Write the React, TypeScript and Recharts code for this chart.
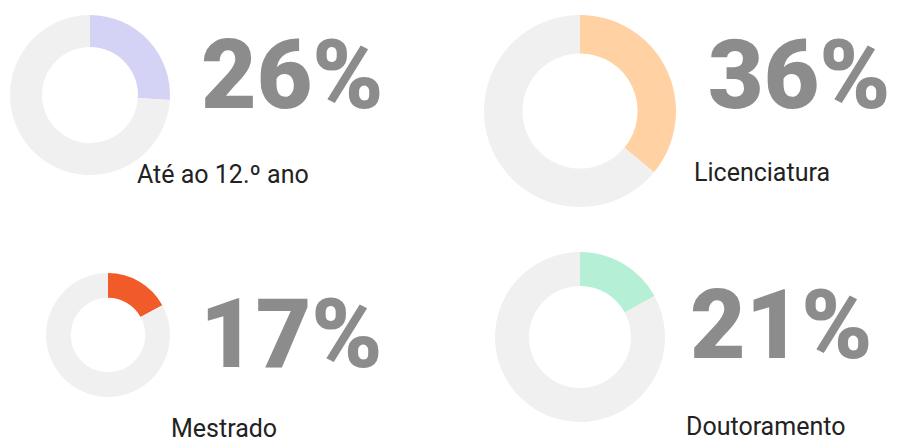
import React from 'react';
import { PieChart, Pie, Cell } from 'recharts';

const categories = ['Até ao 12.º ano', 'Licenciatura', 'Mestrado', 'Doutoramento'];
// numbers printed next to each donut
const shares = [26, 36, 17, 21];
// share the coloured arc actually covers in the picture (Doutoramento's arc is drawn at ~17%)
const arcShares = [26, 36, 17, 17];
const colors = ['#d4d3f6', '#ffd1a3', '#f15a29', '#b5f0d6'];
const restColor = '#f0f0f0';

// placement of each donut + its texts (chart margin is 0)
const layout = [
  { cx: 90, cy: 95, r: 80, numX: 201, numY: 108, labX: 137, labY: 183 },
  { cx: 580, cy: 111, r: 96, numX: 708, numY: 108, labX: 694, labY: 181 },
  { cx: 108, cy: 335, r: 62, numX: 200, numY: 367, labX: 171, labY: 437 },
  { cx: 580, cy: 337, r: 85, numX: 690, numY: 358, labX: 686, labY: 435 },
];

const W = 897;
const H = 441;

export default function App() {
  return (
    <div style={{ position: 'absolute', left: 0, top: 0, width: W, height: H, background: '#fff' }}>
      <PieChart
        width={W}
        height={H}
        margin={{ top: 0, right: 0, bottom: 0, left: 0 }}
        style={{ position: 'absolute', left: 0, top: 0 }}
      >
        {arcShares.map((s, i) => (
          <Pie
            key={categories[i]}
            data={[
              { name: categories[i], value: s },
              { name: 'resto', value: 100 - s },
            ]}
            dataKey="value"
            cx={layout[i].cx}
            cy={layout[i].cy}
            outerRadius={layout[i].r}
            innerRadius={layout[i].r * 0.6}
            startAngle={90}
            endAngle={-270}
            stroke="none"
            isAnimationActive={false}
          >
            <Cell fill={colors[i]} />
            <Cell fill={restColor} />
          </Pie>
        ))}
      </PieChart>
      <svg width={W} height={H} style={{ position: 'absolute', left: 0, top: 0, pointerEvents: 'none' }}>
        {shares.map((s, i) => (
          <g key={i}>
            <text
              x={layout[i].numX}
              y={layout[i].numY}
              fill="#8c8c8c"
              fontFamily="Roboto, sans-serif"
              fontWeight={900}
              fontSize={96}
            >
              {s}%
            </text>
            <text
              x={layout[i].labX}
              y={layout[i].labY}
              fill="#222"
              fontFamily="Roboto, sans-serif"
              fontSize={25}
            >
              {categories[i]}
            </text>
          </g>
        ))}
      </svg>
    </div>
  );
}
